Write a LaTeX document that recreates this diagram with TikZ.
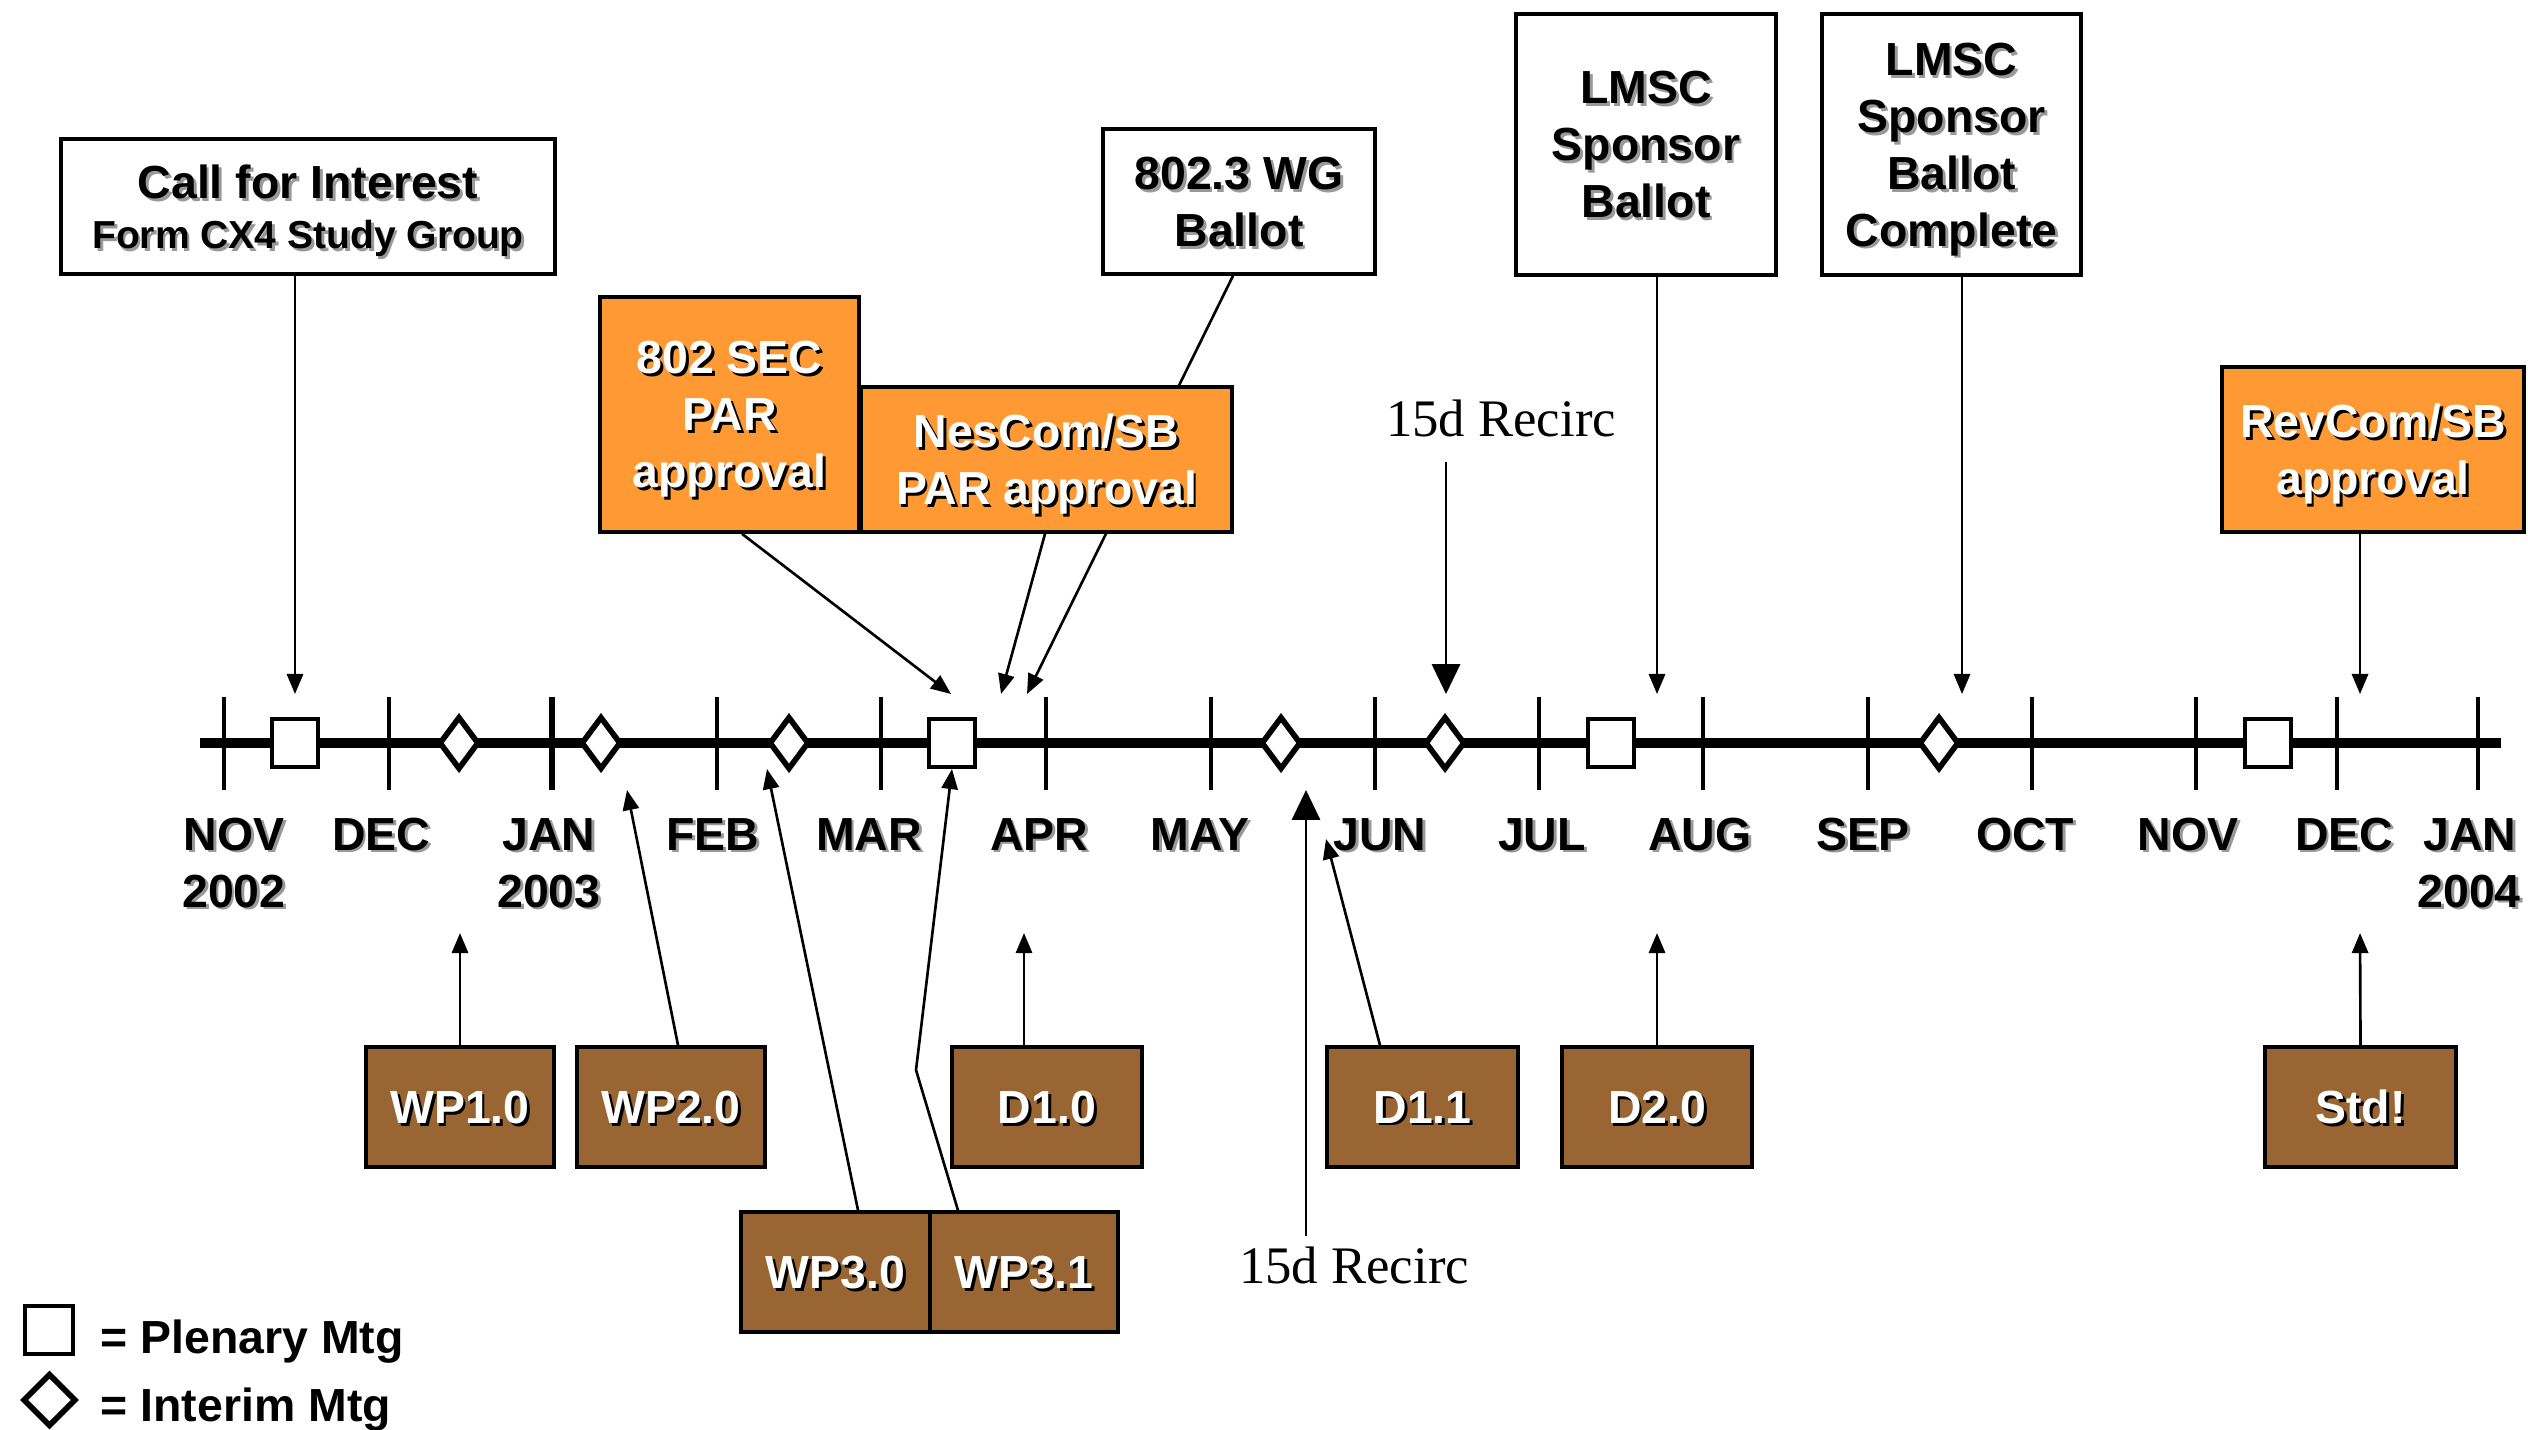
\documentclass[tikz,border=0pt]{standalone}
\usepackage{fontspec}
\setmainfont{Liberation Sans}
\newfontfamily\serifrm{Liberation Serif}
\usetikzlibrary{arrows.meta,shapes.geometric,calc}
\definecolor{orng}{HTML}{FF9933}
\definecolor{brwn}{HTML}{996633}
\definecolor{shd}{gray}{0.6}
\newcommand\bfnt{\fontsize{13.2}{16.2}\selectfont\bfseries}
\newcommand\smfnt{\fontsize{11.1}{13.5}\selectfont\bfseries}
\newcommand\shg[1]{\leavevmode\rlap{\kern0.8pt\raisebox{-0.8pt}{\textcolor{shd}{#1}}}#1}
\newcommand\shw[1]{\leavevmode\rlap{\kern0.8pt\raisebox{-0.8pt}{\textcolor{black}{#1}}}\textcolor{white}{#1}}
\tikzset{
 wbox/.style={draw, line width=1pt, fill=white, inner sep=0pt, align=center, font=\bfnt, text depth=0pt},
 obox/.style={wbox, fill=orng},
 bbox/.style={wbox, fill=brwn, minimum height=1.2cm},
 plen/.style={draw, line width=0.9pt, fill=white, inner sep=0pt, minimum width=0.46cm, minimum height=0.48cm},
 intm/.style={diamond, draw, line width=1.6pt, fill=white, inner sep=0pt, minimum width=0.40cm, minimum height=0.53cm},
 mlbl/.style={anchor=base, inner sep=0pt, font=\bfnt},
 arr/.style={line width=0.75pt, -{Triangle[length=5.7pt,width=4.6pt]}},
 bigarr/.style={line width=0.75pt, -{Triangle[length=8.5pt,width=8pt]}},
 tickln/.style={line width=0.9pt},
 rec/.style={anchor=base, inner sep=0pt, font=\serifrm\fontsize{15}{18}\selectfont},
}
\begin{document}
\begin{tikzpicture}[x=0.01cm, y=-0.01cm]
\useasboundingbox (0,0) rectangle (2528,1429);
% timeline
\coordinate (tlA) at (200,743);
\coordinate (tlB) at (2501,743);
\foreach \x in {224,389,717,881,1046,1211,1375,1539,1703,1868,2032,2196,2337,2478}
  \draw[tickln] (\x,697) -- (\x,790);
\draw[line width=1.8pt] (552,697) -- (552,790);
\draw[line width=3.1pt] (tlA) -- (tlB);
% markers
\node[plen] (p1) at (295,743) {};
\node[intm] (i1) at (459,743) {};
\node[intm] (i2) at (601,743) {};
\node[intm] (i3) at (789,743) {};
\node[plen] (p2) at (952,743) {};
\node[intm] (i4) at (1281,743) {};
\node[intm] (i5) at (1445,743) {};
\node[plen] (p3) at (1611,743) {};
\node[intm] (i6) at (1939,743) {};
\node[plen] (p4) at (2268,743) {};
% month labels
\node[mlbl] (mNOVa) at (234,850) {\shg{NOV}};
\node[mlbl] (y2002) at (234,907) {\shg{2002}};
\node[mlbl] (mDECa) at (381,850) {\shg{DEC}};
\node[mlbl] (mJANa) at (549,850) {\shg{JAN}};
\node[mlbl] (y2003) at (549,907) {\shg{2003}};
\node[mlbl] (mFEB) at (713,850) {\shg{FEB}};
\node[mlbl] (mMAR) at (869,850) {\shg{MAR}};
\node[mlbl] (mAPR) at (1039,850) {\shg{APR}};
\node[mlbl] (mMAY) at (1200,850) {\shg{MAY}};
\node[mlbl] (mJUN) at (1380,850) {\shg{JUN}};
\node[mlbl] (mJUL) at (1542,850) {\shg{JUL}};
\node[mlbl] (mAUG) at (1700,850) {\shg{AUG}};
\node[mlbl] (mSEP) at (1863,850) {\shg{SEP}};
\node[mlbl] (mOCT) at (2025,850) {\shg{OCT}};
\node[mlbl] (mNOVb) at (2188,850) {\shg{NOV}};
\node[mlbl] (mDECb) at (2344,850) {\shg{DEC}};
\node[mlbl] (mJANb) at (2470,850) {\shg{JAN}};
\node[mlbl] (y2004) at (2469,907) {\shg{2004}};
% top boxes
\node[wbox, minimum width=4.94cm, minimum height=1.35cm] (cfi) at (308,206.5)
  {\shg{Call for Interest}\\[-2.0pt]{\smfnt\shg{Form CX4 Study Group}}};
\node[wbox, minimum width=2.72cm, minimum height=1.45cm] (wg) at (1239,201.5)
  {\shg{802.3 WG}\\\shg{Ballot}};
\node[obox, minimum width=2.59cm, minimum height=2.35cm] (sec) at (729.5,414.5)
  {\shw{802 SEC}\\\shw{PAR}\\\shw{approval}};
\coordinate (t4) at (1027,694);
\draw[arr] ([xshift=-0.06cm]wg.south) -- (t4);
\node[obox, minimum width=3.71cm, minimum height=1.45cm] (nes) at (1046.5,459.5)
  {\shw{NesCom/SB}\\\shw{PAR approval}};
\node[wbox, minimum width=2.60cm, minimum height=2.61cm] (lsb) at (1646,144.5)
  {\shg{LMSC}\\\shg{Sponsor}\\\shg{Ballot}};
\node[wbox, minimum width=2.59cm, minimum height=2.61cm] (lsbc) at (1951.5,144.5)
  {\shg{LMSC}\\\shg{Sponsor}\\\shg{Ballot}\\\shg{Complete}};
\node[obox, minimum width=3.02cm, minimum height=1.65cm] (rev) at (2373,449.5)
  {\shw{RevCom/SB}\\\shw{approval}};
\node[rec] (rc1) at (1501,436) {15d Recirc};
% top arrows
\coordinate (t1) at (295,694);
\draw[arr] (cfi.south -| t1) -- (t1);
\coordinate (t2) at (951,694);
\draw[arr] ([xshift=0.125cm]sec.south) -- (t2);
\coordinate (t3) at (1001,694);
\draw[arr] ([xshift=-0.015cm]nes.south) -- (t3);
\coordinate (t5) at (1446,694);
\draw[bigarr] ($(rc1.south -| t5)+(0,25)$) -- (t5);
\coordinate (t6) at (1657,694);
\draw[arr] (lsb.south -| t6) -- (t6);
\coordinate (t7) at (1962,694);
\draw[arr] (lsbc.south -| t7) -- (t7);
\coordinate (t8) at (2360,694);
\draw[arr] (rev.south -| t8) -- (t8);
% bottom boxes
\node[bbox, minimum width=1.88cm] (wp1) at (460,1107) {\shw{WP1.0}};
\node[bbox, minimum width=1.88cm] (wp2) at (671,1107) {\shw{WP2.0}};
\node[bbox, minimum width=1.90cm] (d10) at (1047,1107) {\shw{D1.0}};
\node[bbox, minimum width=1.89cm] (wp30) at (835.5,1272) {\shw{WP3.0}};
\node[bbox, minimum width=1.88cm] (wp31) at (1024,1272) {\shw{WP3.1}};
\node[bbox, minimum width=1.91cm] (d11) at (1422.5,1107) {\shw{D1.1}};
\node[bbox, minimum width=1.90cm] (d20) at (1657,1107) {\shw{D2.0}};
\node[bbox, minimum width=1.91cm] (std) at (2360.5,1107) {\shw{Std!}};
\node[rec] (rc2) at (1354,1283) {15d Recirc};
% bottom arrows
\coordinate (t9) at (460,933);
\draw[arr] (wp1.north) -- (t9);
\coordinate (t10) at (627,790);
\draw[arr] ([xshift=0.07cm]wp2.north) -- (t10);
\coordinate (t11) at (1024,933);
\draw[arr] (d10.north -| t11) -- (t11);
\coordinate (t12) at (767,769);
\draw[arr] ([xshift=0.225cm]wp30.north) -- (t12);
\coordinate (bn) at (916,1070);
\coordinate (t13) at (952,769);
\draw[arr] ([xshift=-0.66cm]wp31.north) -- (bn) -- (t13);
\coordinate (t14) at (1306,790);
\draw[bigarr] ($(rc2.north -| t14)+(0,-10)$) -- (t14);
\coordinate (t15) at (1326,839);
\draw[arr] ([xshift=-0.425cm]d11.north) -- (t15);
\coordinate (t16) at (1657,933);
\draw[arr] (d20.north) -- (t16);
\coordinate (t17) at (2360,933);
\draw[arr] (std.north) -- (t17);
% legend
\node[plen, minimum width=0.48cm] (lgP) at (49,1330) {};
\node[intm, minimum width=0.53cm, minimum height=0.53cm] (lgI) at (49.5,1400) {};
\node[anchor=base west, inner sep=0pt, font=\bfnt] (lgPt) at (100,1353) {= Plenary Mtg};
\node[anchor=base west, inner sep=0pt, font=\bfnt] (lgIt) at (100,1421) {= Interim Mtg};
\end{tikzpicture}
\end{document}
